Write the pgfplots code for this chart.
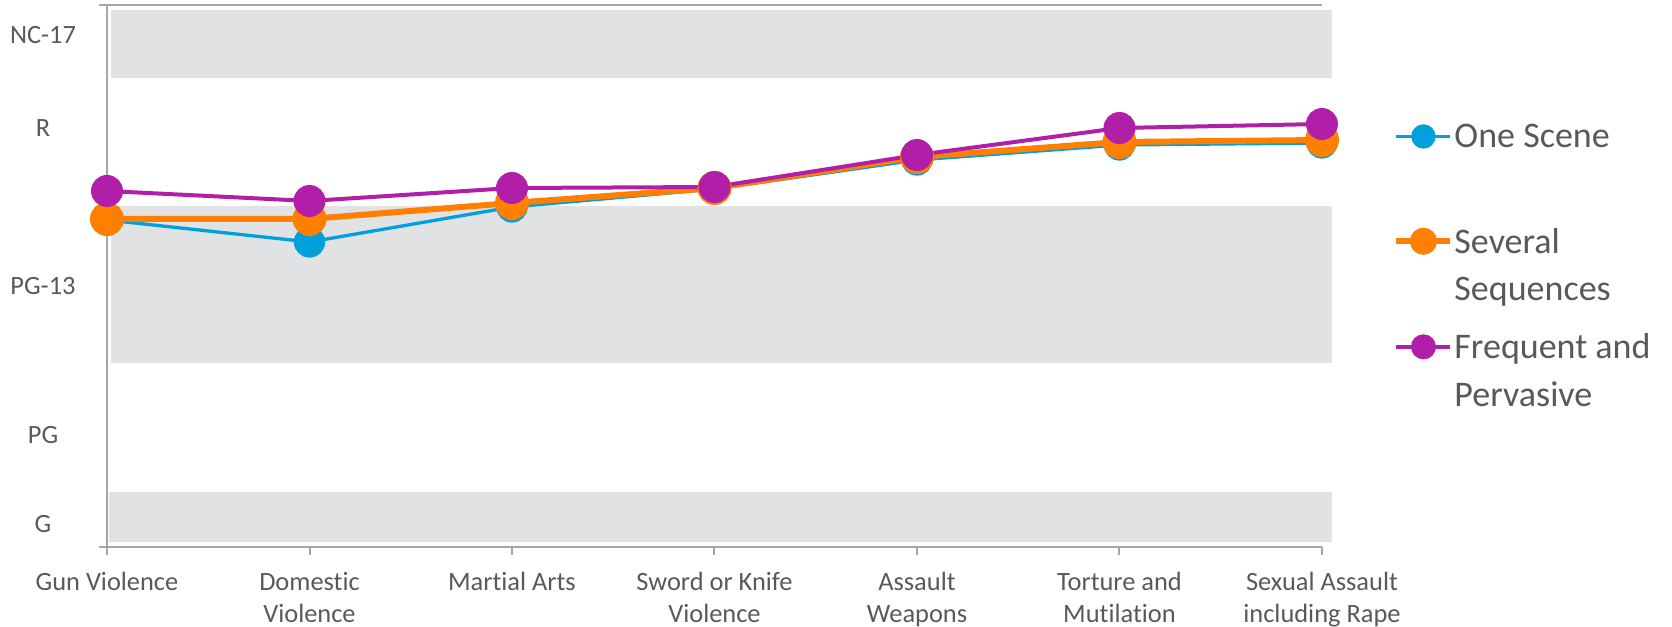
\documentclass[border=0pt]{standalone}
\usepackage{pgfplots}
\pgfplotsset{compat=1.18}
\usepackage{fontspec}
\setmainfont{Carlito}[Ligatures=NoCommon]

\definecolor{oneblue}{HTML}{00A0DC}
\definecolor{sevorange}{HTML}{FF8000}
\definecolor{freqpurple}{HTML}{B11FA8}
\definecolor{band}{HTML}{E1E2E4}
\definecolor{axisgray}{HTML}{A6A6A6}
\definecolor{txt}{HTML}{595959}

\begin{document}
\begin{tikzpicture}
\begin{axis}[
  scale only axis, width=607.5pt, height=271pt,
  xmin=0, xmax=6, ymin=0, ymax=5.42,
  clip=false,
  axis x line=box, axis y line=left,
  axis line style={-, draw=axisgray, line width=1pt},
  xtick={0,...,6}, xtick pos=left, tick align=outside, major tick length=4pt,
  x tick style={draw=axisgray, line width=1pt},
  xticklabels={Gun Violence, Domestic\\Violence, Martial Arts, Sword or Knife\\Violence,
    Assault\\Weapons, Torture and\\Mutilation, Sexual Assault\\including Rape},
  xticklabel style={align=center, font=\fontsize{13.2}{16}\selectfont, text=txt, yshift=-5pt},
  ytick={0.23,1.12,2.61,4.19,5.12},
  yticklabels={G,PG,PG-13,R,NC-17},
  y tick style={draw=none},
  yticklabel style={anchor=center, xshift=-28pt, font=\fontsize{13.2}{16}\selectfont, text=txt},
  extra y ticks={0,5.42}, extra y tick labels={},
  extra y tick style={y tick style={draw=axisgray, line width=1pt}},
  legend style={at={(rel axis cs:1.0585,0.781)}, anchor=north west, draw=none, fill=none,
    inner sep=0pt, row sep=15pt, column sep=0.5pt,
    font=\fontsize{18}{23.8}\selectfont, text=txt, nodes={inner sep=0pt}},
  legend cell align=left,
  legend image code/.code={\draw[mark repeat=2, mark phase=2, #1, mark size=5.25pt]
    plot coordinates {(0pt,12.3pt) (13.5pt,12.3pt) (27pt,12.3pt)};},
]
% rating bands
\addplot[fill=band, draw=none, mark=none, forget plot] coordinates {(0.01,0.05) (6.05,0.05) (6.05,0.55) (0.01,0.55)};
\addplot[fill=band, draw=none, mark=none, forget plot] coordinates {(0.02,1.84) (6.05,1.84) (6.05,3.41) (0.02,3.41)};
\addplot[fill=band, draw=none, mark=none, forget plot] coordinates {(0.02,4.69) (6.05,4.69) (6.05,5.37) (0.02,5.37)};

\addplot[color=oneblue, line width=1.65pt, mark=*, mark size=7pt] coordinates {
  (0,3.27) (1,3.05) (2,3.40) (3,3.58) (4,3.87) (5,4.02) (6,4.04)};
\addlegendentry[align=left]{One Scene\\\mbox{}}
\addplot[color=sevorange, line width=3pt, mark=*, mark size=7pt] coordinates {
  (0,3.28) (1,3.28) (2,3.44) (3,3.59) (4,3.90) (5,4.05) (6,4.07)};
\addlegendentry[align=left]{Several\\Sequences}
\addplot[color=freqpurple, line width=2pt, mark=*, mark size=7pt] coordinates {
  (0,3.56) (1,3.46) (2,3.59) (3,3.60) (4,3.92) (5,4.19) (6,4.23)};
\addlegendentry[align=left]{Frequent and\\Pervasive}

\coordinate (bbl) at (rel axis cs:-0.08807,-0.1476);
\coordinate (btr) at (rel axis cs:1.2881,1.00923);
\end{axis}
\pgfresetboundingbox
\path[use as bounding box] (bbl) rectangle (btr);
\end{tikzpicture}
\end{document}
